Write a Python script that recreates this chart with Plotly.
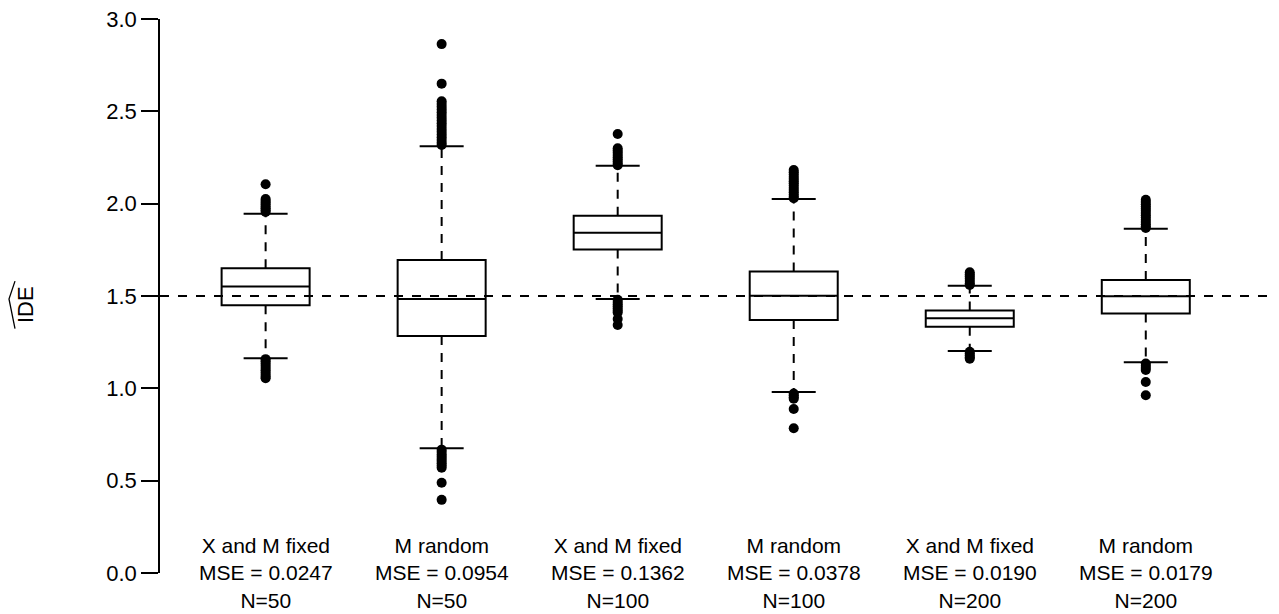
import plotly.graph_objects as go

# Scenario labels shown under each box
designs = ["X and M fixed", "M random", "X and M fixed", "M random", "X and M fixed", "M random"]
mse_values = ["0.0247", "0.0954", "0.1362", "0.0378", "0.0190", "0.0179"]
sample_sizes = [50, 50, 100, 100, 200, 200]

# Five-number summaries of the estimated indirect effect
lower_whisker = [1.163, 0.675, 1.484, 0.980, 1.202, 1.141]
q1 = [1.450, 1.284, 1.752, 1.370, 1.334, 1.405]
median = [1.552, 1.484, 1.843, 1.502, 1.379, 1.498]
q3 = [1.650, 1.695, 1.935, 1.632, 1.421, 1.587]
upper_whisker = [1.945, 2.311, 2.205, 2.025, 1.555, 1.864]

# Points beyond the whiskers, per scenario
upper_outliers = [
    [2.105, 2.025, 2.015, 2.005, 1.995, 1.985, 1.975, 1.965, 1.955],
    [2.864, 2.650, 2.555, 2.540, 2.525, 2.510, 2.495, 2.480, 2.465, 2.450, 2.435,
     2.420, 2.405, 2.390, 2.375, 2.360, 2.345, 2.330, 2.318],
    [2.377, 2.300, 2.288, 2.276, 2.264, 2.252, 2.240, 2.228, 2.216, 2.208],
    [2.182, 2.170, 2.158, 2.146, 2.134, 2.122, 2.110, 2.098, 2.086, 2.074, 2.062,
     2.050, 2.038, 2.030],
    [1.629, 1.617, 1.605, 1.593, 1.581, 1.569, 1.560],
    [2.021, 2.009, 1.997, 1.985, 1.973, 1.961, 1.949, 1.937, 1.925, 1.913, 1.901,
     1.889, 1.877, 1.868],
]
lower_outliers = [
    [1.158, 1.146, 1.134, 1.122, 1.110, 1.098, 1.086, 1.074, 1.063, 1.055],
    [0.668, 0.655, 0.642, 0.630, 0.618, 0.606, 0.594, 0.582, 0.570, 0.489, 0.396],
    [1.480, 1.468, 1.456, 1.444, 1.432, 1.420, 1.410, 1.375, 1.343],
    [0.972, 0.962, 0.952, 0.944, 0.888, 0.784],
    [1.198, 1.188, 1.178, 1.168, 1.160],
    [1.134, 1.122, 1.110, 1.099, 1.034, 0.963],
]

true_effect = 1.5
y_ticks = [0.0, 0.5, 1.0, 1.5, 2.0, 2.5, 3.0]

FONT = "Liberation Sans, Arial, Helvetica, sans-serif"
BOX_WIDTH = 0.5
CAP_HALF = 0.125

fig = go.Figure()

positions = list(range(1, len(designs) + 1))

for i, pos in enumerate(positions):
    # Box body with median; whiskers are drawn separately (dashed)
    fig.add_trace(go.Box(
        x=[pos], q1=[q1[i]], median=[median[i]], q3=[q3[i]],
        lowerfence=[q1[i]], upperfence=[q3[i]],
        width=BOX_WIDTH, fillcolor="white",
        line=dict(color="black", width=2),
        boxpoints=False, hoverinfo="skip", showlegend=False,
    ))
    # Dashed whiskers
    fig.add_trace(go.Scatter(
        x=[pos, pos, None, pos, pos],
        y=[q3[i], upper_whisker[i], None, q1[i], lower_whisker[i]],
        mode="lines", line=dict(color="black", width=2, dash="9px,8px"),
        hoverinfo="skip", showlegend=False,
    ))
    # Whisker caps
    fig.add_trace(go.Scatter(
        x=[pos - CAP_HALF, pos + CAP_HALF, None, pos - CAP_HALF, pos + CAP_HALF],
        y=[upper_whisker[i], upper_whisker[i], None, lower_whisker[i], lower_whisker[i]],
        mode="lines", line=dict(color="black", width=2),
        hoverinfo="skip", showlegend=False,
    ))
    # Outliers
    pts = upper_outliers[i] + lower_outliers[i]
    fig.add_trace(go.Scatter(
        x=[pos] * len(pts), y=pts, mode="markers",
        marker=dict(color="black", size=10, line=dict(width=0)),
        hoverinfo="skip", showlegend=False, cliponaxis=False,
    ))

# Reference line at the true effect
fig.add_shape(type="line", xref="paper", x0=0, x1=1, yref="y",
              y0=true_effect, y1=true_effect, layer="above",
              line=dict(color="black", width=2, dash="9px,9px"))

# Scenario labels under the boxes
for i, pos in enumerate(positions):
    fig.add_annotation(
        x=pos, y=0, xref="x", yref="y",
        text=f"{designs[i]}<br>MSE = {mse_values[i]}<br>N={sample_sizes[i]}",
        showarrow=False, xanchor="center", yanchor="middle",
        font=dict(family=FONT, size=21, color="black"), align="center",
    )

# Y-axis title with a wide hat
fig.add_annotation(
    x=-0.121, y=0.4845, xref="paper", yref="paper", text="IDE",
    textangle=-90, showarrow=False, xanchor="center", yanchor="middle",
    font=dict(family=FONT, size=22, color="black"),
)
fig.add_shape(type="path", xref="paper", yref="paper",
              path="M -0.1304,0.5268 L -0.1358,0.4946 L -0.1304,0.4411",
              line=dict(color="black", width=1.3))

fig.update_layout(
    width=1279, height=614,
    margin=dict(l=160, r=7, t=13, b=41),
    paper_bgcolor="white", plot_bgcolor="white",
    font=dict(family=FONT, color="black"),
    showlegend=False,
    xaxis=dict(range=[0.4, 6.717], visible=False, showgrid=False, zeroline=False),
    yaxis=dict(
        range=[0, 3], tickvals=y_ticks, ticktext=[f"{v:.1f}" for v in y_ticks],
        showline=True, linecolor="black", linewidth=1.5,
        ticks="outside", ticklen=17, tickwidth=1.5, tickcolor="black",
        tickfont=dict(family=FONT, size=22, color="black"),
        showgrid=False, zeroline=False,
    ),
)

fig.write_html("out.html")
